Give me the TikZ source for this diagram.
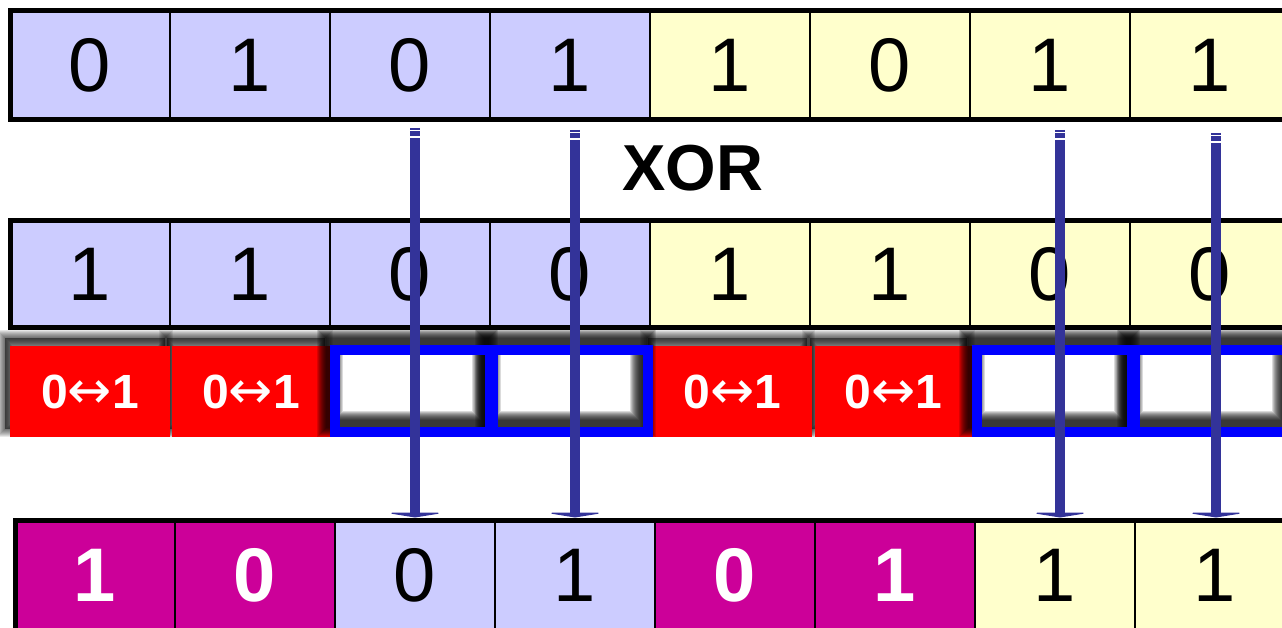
\documentclass[tikz,border=0pt]{standalone}
\usepackage{fontspec}
\setmainfont{Liberation Sans}
\newfontfamily\arrowfont[Scale=1.1]{DejaVu Sans}
\usetikzlibrary{arrows.meta,calc}
\definecolor{lav}{RGB}{204,204,255}
\definecolor{pale}{RGB}{255,255,204}
\definecolor{flipred}{RGB}{255,0,0}
\definecolor{keepblue}{RGB}{0,0,255}
\definecolor{outmag}{RGB}{204,0,153}
\definecolor{arrowblue}{RGB}{51,51,153}
\newcommand\bigdigit{\fontsize{76}{80}\selectfont}
\newcommand\flipfont{\fontsize{48}{52}\selectfont\bfseries}
\newcommand\swap{{\arrowfont\mdseries ↔}}
\tikzset{
  cell/.style={draw=black, line width=1.5pt, minimum width=160pt, minimum height=107pt,
    inner sep=0pt, outer sep=0pt, font=\bigdigit, text=black},
  outbit/.style={cell, fill=outmag, text=white, font=\bigdigit\bfseries},
  rowframe/.style={draw=black, line width=5pt},
  flip/.style={fill=flipred, minimum height=91pt, inner sep=0pt, outer sep=0pt,
    font=\flipfont, text=white},
  keep/.style={draw=keepblue, line width=10pt, minimum width=155pt, minimum height=82pt,
    inner sep=0pt, outer sep=0pt},
  softshade/.style={black, opacity=#1},
  xorarrow/.style={draw=arrowblue, line width=10pt, -{Triangle[length=5pt, width=62pt]},
    shorten >=3pt},
}

\begin{document}
\begin{tikzpicture}[x=1pt, y=-1pt]
  \useasboundingbox (0,0) rectangle (1282,628);
  \clip (0,0) rectangle (1282,628);
  % first operand
  \foreach \i/\v/\c in {1/0/lav,2/1/lav,3/0/lav,4/1/lav,5/1/pale,6/0/pale,7/1/pale,8/1/pale}
    \node[cell, fill=\c, minimum height=109] (a\i) at ({90+160*(\i-1)}, 65) {\v};
  \draw[rowframe] (a1.north west) rectangle (a8.south east);
  \node[font=\fontsize{65}{70}\selectfont\bfseries] (xor) at (693,168) {XOR};
  % second operand (mask)
  \foreach \i/\v/\c in {1/1/lav,2/1/lav,3/0/lav,4/0/lav,5/1/pale,6/1/pale,7/0/pale,8/0/pale}
    \node[cell, fill=\c, minimum height=106.5] (b\i) at ({90+160*(\i-1)}, 274.25) {\v};
  \draw[rowframe] (b1.north west) rectangle (b8.south east);
  % flip / keep row
  \foreach \xa/\xb in {10/170,172/330,653/812,815/972} {
    \fill[softshade=.5, shift={(-5,-8)}] (\xa,346) rectangle (\xb,437);
    \foreach \w in {2,4,...,16} \draw[softshade=.09, line width=\w, shift={(-5,-8)}] (\xa,346) rectangle (\xb,437);
  }
  \foreach \i/\x/\w in {1/90/160,2/251/158,5/732.5/159,6/893.5/157}
    \node[flip, minimum width=\w] (f\i) at (\x,391.5) {0\swap1};
  \foreach \xa/\xb in {335/490,493/648,977/1132,1135/1290}
    \foreach \w in {8,10,...,26}
      \draw[softshade=.14, line width=\w, shift={(-5,-8)}] (\xa,350) rectangle (\xb,432);
  \foreach \i/\x in {3/412.5,4/570.5,7/1054.5,8/1212.5}
    \node[keep] (f\i) at (\x,391) {};
  % result
  \foreach \i/\v in {1/1,2/0,5/0,6/1}
    \node[outbit, minimum height=109.5] (r\i) at ({95+160*(\i-1)}, 575.25) {\v};
  \foreach \i/\v/\c in {3/0/lav,4/1/lav,7/1/pale,8/1/pale}
    \node[cell, fill=\c, minimum height=109.5] (r\i) at ({95+160*(\i-1)}, 575.25) {\v};
  \draw[rowframe] (r1.north west) rectangle (r8.south east);
  \foreach \i/\x/\y in {3/415/128,4/575/130,7/1060/130,8/1216/133} {
    \coordinate (s\i) at (\x,\y);
    \draw[xorarrow] (s\i) -- (s\i |- r\i.north);
    \draw[white, line width=1] ($(s\i)+(-6,2.5)$) -- ++(12,0);
    \draw[white, line width=1.5] ($(s\i)+(-6,9)$) -- ++(12,0);
  }
\end{tikzpicture}
\end{document}
